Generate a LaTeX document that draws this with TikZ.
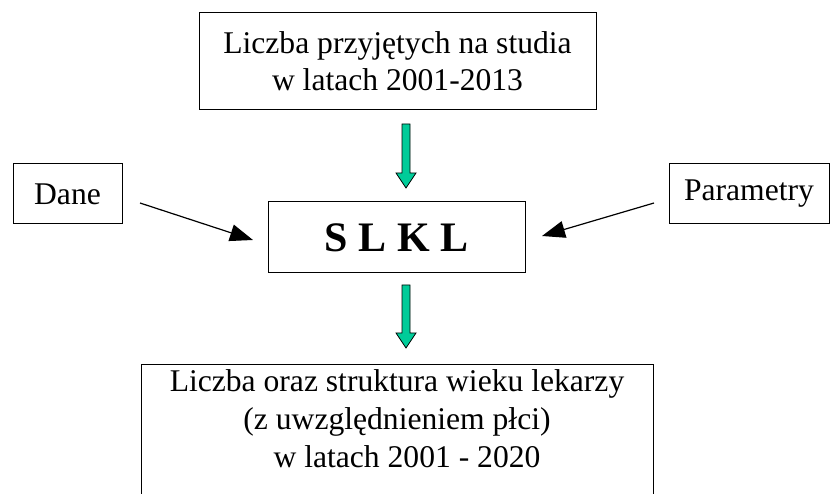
\documentclass[tikz,border=0pt]{standalone}
\usepackage{fontspec}
\setmainfont{Liberation Serif}
\usetikzlibrary{arrows.meta}
\definecolor{arrowgreen}{RGB}{0,204,153}
\tikzset{
  box/.style={draw=black, line width=1pt, inner sep=0pt, align=center,
    font=\fontsize{31.6}{37}\selectfont},
  txt/.style={inner sep=0pt, align=center, font=\fontsize{31.6}{38}\selectfont},
  blackarrow/.style={line width=1.2pt, -{Triangle[length=23pt,width=17pt]}},
  greenarrow/.style={fill=arrowgreen, draw=black, line width=0.8pt, line join=miter}
}
\begin{document}
\begin{tikzpicture}[x=1pt,y=-1pt]
\useasboundingbox (0,0) rectangle (830,494);
\clip (0,0) rectangle (830,494);

\node[box, minimum width=397pt, minimum height=97pt] (top) at (397.5,61.5)
  {Liczba przyjętych na studia\\w latach 2001-2013};
\node[box, minimum width=109pt, minimum height=60pt] (dane) at (67.5,194) {Dane};
\node[box, minimum width=160pt, minimum height=60pt] (param) at (749,194) {Parametry};
\node[box, minimum width=257pt, minimum height=71pt,
  font=\fontsize{42}{42}\selectfont\bfseries] (slkl) at (396.5,237.5) {S L K L};
\node[box, minimum width=512pt, minimum height=180pt, anchor=north] (out) at (397,364) {};
\node[txt] (outtxt) at (397,419)
  {Liczba oraz struktura wieku lekarzy\\(z uwzględnieniem płci)\\\hspace*{20pt}w latach 2001 - 2020};

% black arrows
\coordinate (d1) at (140,203);
\coordinate (d2) at (253,240);
\coordinate (p1) at (654,203);
\coordinate (p2) at (542,236);
\draw[blackarrow] (d1) -- (d2);
\draw[blackarrow] (p1) -- (p2);

% green block arrows
\draw[greenarrow] (402,124) -- (410,124) -- (410,173) -- (416,173) -- (406,188)
  -- (396,173) -- (402,173) -- cycle;
\draw[greenarrow] (402,285) -- (410,285) -- (410,333) -- (416,333) -- (406,348)
  -- (396,333) -- (402,333) -- cycle;
\end{tikzpicture}
\end{document}
